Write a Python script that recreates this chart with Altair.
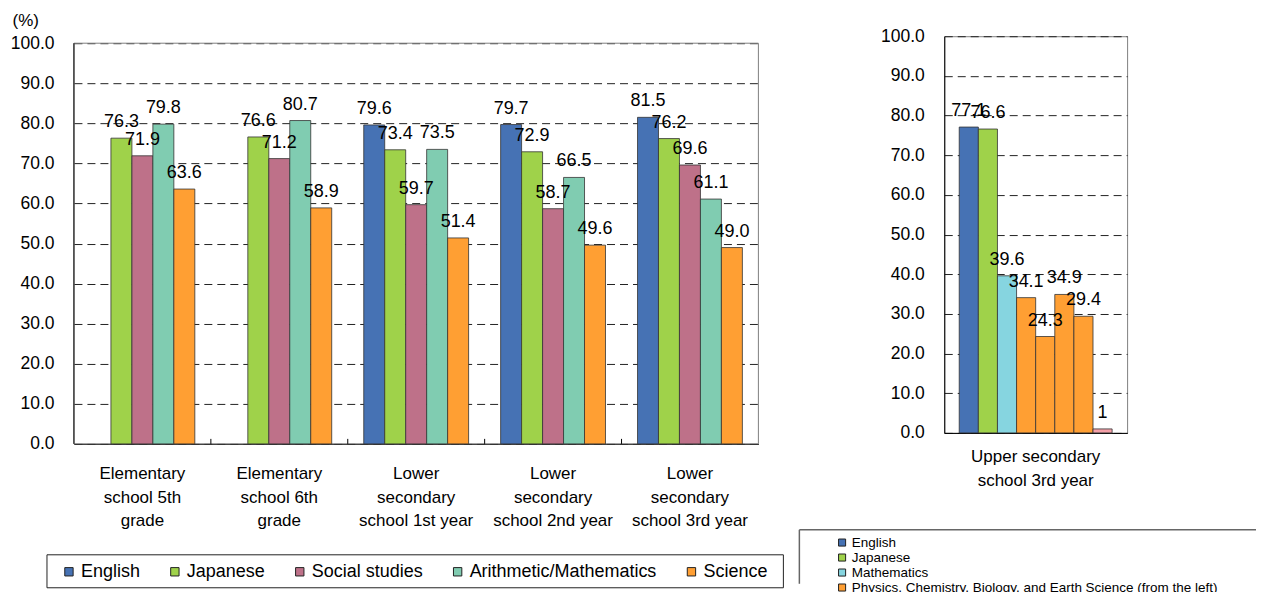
import altair as alt
import pandas as pd

FONT = "Liberation Sans"

# ---------------- data (left panel) ----------------
groups = [
    "Elementary|school 5th|grade",
    "Elementary|school 6th|grade",
    "Lower|secondary|school 1st year",
    "Lower|secondary|school 2nd year",
    "Lower|secondary|school 3rd year",
]
subjects = ["English", "Japanese", "Social studies", "Arithmetic/Mathematics", "Science"]
english = [None, None, 79.6, 79.7, 81.5]
japanese = [76.3, 76.6, 73.4, 72.9, 76.2]
social = [71.9, 71.2, 59.7, 58.7, 69.6]
arith = [79.8, 80.7, 73.5, 66.5, 61.1]
science = [63.6, 58.9, 51.4, 49.6, 49.0]
colors_left = ["#4672B4", "#9FD24A", "#BE7189", "#80CCB1", "#FF9F33"]

# ---------------- data (right panel) ----------------
upper_group = ["Upper secondary|school 3rd year"]
upper_subjects = ["English", "Japanese", "Mathematics", "Physics", "Chemistry",
                  "Biology", "Earth Science", "Other"]
sci_series = "Physics, Chemistry, Biology, and Earth Science (from the left)"
upper_series = ["English", "Japanese", "Mathematics", sci_series, sci_series,
                sci_series, sci_series, "Other"]
upper_values = [77.1, 76.6, 39.6, 34.1, 24.3, 34.9, 29.4, 1]
upper_labels = ["77.1", "76.6", "39.6", "34.1", "24.3", "34.9", "29.4", "1"]
series_right = ["English", "Japanese", "Mathematics", sci_series, "Other"]
colors_right = ["#4672B4", "#9FD24A", "#86D5E0", "#FF9F33", "#F4A0A8"]

# ---------------- tables ----------------
rows = []
for s, vals in zip(subjects, [english, japanese, social, arith, science]):
    for g, v in zip(groups, vals):
        if v is not None:
            rows.append({"group": g, "subject": s, "value": v, "label": f"{v:.1f}"})
left_df = pd.DataFrame(rows)
bound_df = pd.DataFrame({"group": groups[1:]})

right_df = pd.DataFrame({
    "group": upper_group * len(upper_subjects),
    "subject": upper_subjects,
    "series": upper_series,
    "value": upper_values,
    "label": upper_labels,
})
one = pd.DataFrame({"k": [0]})

# left view is 7px taller on top so that its 100 line sits lower than the right one
W1, H1 = 685, 408
W2, H2 = 183, 397
LEFT_TOP = 100 * H1 / 401.0

def y_axis(title=None):
    kw = dict(values=list(range(0, 101, 10)), format=".1f", labelFontSize=17.5,
              labelPadding=20, ticks=False, domainColor="black", labelColor="black",
              grid=True, gridDash=[8, 5], gridColor="#222222", gridWidth=1)
    if title:
        kw.update(title=title, titleAngle=0, titleX=-62, titleY=-11, titleAlign="left",
                  titleBaseline="alphabetic", titleFontSize=17, titleFontWeight="normal",
                  titleColor="black", domain=False)
    else:
        kw.update(title=None)
    return alt.Axis(**kw)

def x_axis(pad):
    return alt.Axis(title=None, labelExpr="split(datum.label, '|')", labelAngle=0,
                    labelFontSize=17, labelLineHeight=23.5, labelPadding=pad,
                    labelBaseline="top", ticks=False, domainColor="black",
                    labelColor="black", grid=False)

# ---------------- left chart ----------------
xl = alt.X("group:N", sort=groups,
           scale=alt.Scale(domain=groups, paddingInner=0.234, paddingOuter=0.117),
           axis=x_axis(22))
xol = alt.XOffset("subject:N", scale=alt.Scale(domain=subjects, paddingInner=0, paddingOuter=0))
yl = alt.Y("value:Q", scale=alt.Scale(domain=[0, LEFT_TOP], nice=False), axis=y_axis("(%)"))

frame_l = alt.Chart(one).mark_rect(fillOpacity=0, stroke="#808080", strokeWidth=1).encode(
    x=alt.value(0), x2=alt.value(W1), y=alt.datum(100), y2=alt.datum(0))
yline_l = alt.Chart(one).mark_rule(color="black", strokeWidth=1).encode(
    x=alt.value(0), y=alt.datum(100), y2=alt.datum(0))
bars_l = alt.Chart(left_df).mark_bar(stroke="#333333", strokeWidth=0.8).encode(
    x=xl, xOffset=xol, y=yl,
    color=alt.Color("subject:N", scale=alt.Scale(domain=subjects, range=colors_left),
                    legend=alt.Legend(title=None, orient="none", legendX=-14, legendY=527,
                                      direction="horizontal", columns=5, columnPadding=25,
                                      symbolType="square", symbolSize=70,
                                      symbolStrokeColor="#222222", symbolStrokeWidth=1,
                                      symbolOpacity=1, labelFontSize=18, labelOffset=3,
                                      labelLimit=500, labelColor="black", padding=0)),
)
text_l = alt.Chart(left_df).mark_text(dy=-11, fontSize=18, baseline="alphabetic",
                                     color="black", font=FONT).encode(
    x=xl, xOffset=xol, y=yl, text="label:N")
ticks_l = alt.Chart(bound_df).mark_rule(color="black", xOffset=-16).encode(
    x=alt.X("group:N", sort=groups, bandPosition=0),
    y=alt.value(H1), y2=alt.value(H1 - 5))
box_l = alt.Chart(one).mark_rect(fillOpacity=0, stroke="#222222", strokeWidth=1).encode(
    x=alt.value(-27), x2=alt.value(710), y=alt.value(519), y2=alt.value(552))

left = alt.layer(frame_l, yline_l, bars_l, text_l, ticks_l, box_l).properties(
    width=W1, height=H1, view=alt.ViewBackground(stroke="transparent"))

# ---------------- right chart ----------------
xr = alt.X("group:N", scale=alt.Scale(domain=upper_group, paddingInner=0, paddingOuter=0.098),
           axis=x_axis(16))
xor = alt.XOffset("subject:N", scale=alt.Scale(domain=upper_subjects, paddingInner=0, paddingOuter=0))
yr = alt.Y("value:Q", scale=alt.Scale(domain=[0, 100], nice=False), axis=y_axis())

bars_r = alt.Chart(right_df).mark_bar(stroke="#333333", strokeWidth=0.8).encode(
    x=xr, xOffset=xor, y=yr,
    color=alt.Color("series:N", scale=alt.Scale(domain=series_right, range=colors_right),
                    legend=alt.Legend(title=None, orient="none", legendX=-109, legendY=500,
                                      direction="vertical", values=series_right[:4],
                                      symbolType="square", symbolSize=50,
                                      symbolStrokeColor="#222222", symbolStrokeWidth=1,
                                      symbolOpacity=1, labelFontSize=13.5, labelOffset=3,
                                      rowPadding=0, labelLimit=600, labelColor="black",
                                      padding=0)),
)
text_r = alt.Chart(right_df).mark_text(dy=-11, fontSize=18, baseline="alphabetic",
                                      color="black", font=FONT).encode(
    x=xr, xOffset=xor, y=yr, text="label:N")
line_top = alt.Chart(one).mark_rule(color="#666666", strokeWidth=1.5).encode(
    x=alt.value(-145), x2=alt.value(312), y=alt.value(494))
line_left = alt.Chart(one).mark_rule(color="#666666", strokeWidth=1.5).encode(
    x=alt.value(-145), y=alt.value(494), y2=alt.value(548))

right = alt.layer(bars_r, text_r, line_top, line_left).properties(width=W2, height=H2)

chart = alt.hconcat(left, right, spacing=13).resolve_scale(
    color="independent", x="independent", xOffset="independent", y="independent"
).properties(
    padding={"left": 1, "top": 2, "right": 0, "bottom": 0}
).configure(font=FONT, background="white").configure_view(
    stroke="#808080", strokeWidth=1
).configure_axis(labelFont=FONT, titleFont=FONT).configure_legend(
    labelFont=FONT
)

chart.save("out.html", embed_options={"renderer": "svg", "actions": False})
